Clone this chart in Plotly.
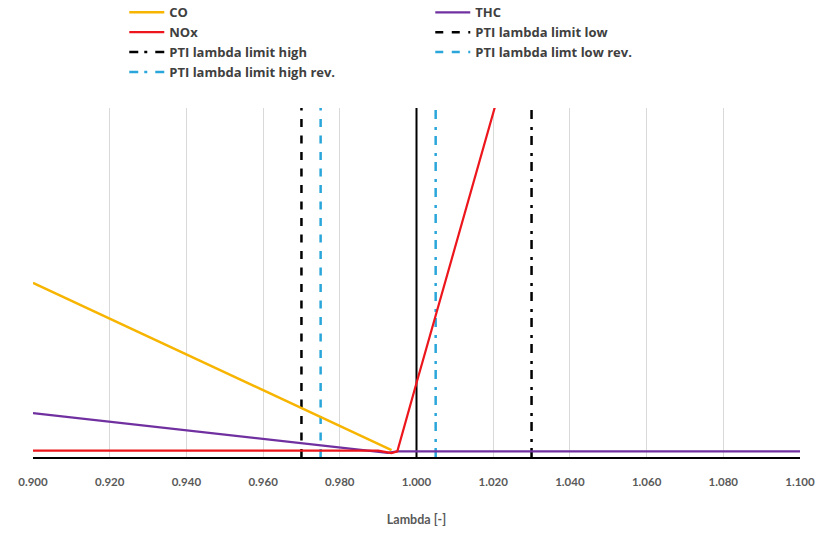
import plotly.graph_objects as go

# ---- data ----
lambda_co = [0.900, 0.9935]
co = [49.9, 2.0]

lambda_thc = [0.900, 0.9925, 0.995, 1.100]
thc = [12.6, 1.2, 1.6, 1.6]

lambda_nox = [0.900, 0.990, 0.9935, 0.995, 1.000, 1.0205]
nox = [1.8, 1.8, 1.1, 1.6, 21.2, 100.5]

pti_low = 0.970
pti_low_rev = 0.975
stoich = 1.000
pti_high_rev = 1.005
pti_high = 1.030

x_ticks = [0.90, 0.92, 0.94, 0.96, 0.98, 1.00, 1.02, 1.04, 1.06, 1.08, 1.10]
x_ticklabels = ["0.900", "0.920", "0.940", "0.960", "0.980", "1.000",
                "1.020", "1.040", "1.060", "1.080", "1.100"]

Y_MIN, Y_MAX = 0, 100

BLACK = "#000000"
CYAN = "#2aa6da"
DASH = "8px,8.5px"
DASHDOT = "9px,6px,3px,8px"

fig = go.Figure()

def vline(x, color, dash, name, rank, show=True, width=2.5):
    fig.add_trace(go.Scatter(
        x=[x, x], y=[Y_MIN, Y_MAX], mode="lines", name=name,
        line=dict(color=color, width=width, dash=dash),
        showlegend=show, legendrank=rank, hoverinfo="skip"))

vline(pti_low, BLACK, DASH, "PTI lambda limit low", 4)
vline(pti_low_rev, CYAN, DASH, "PTI lambda limt low rev.", 6)
vline(stoich, BLACK, "solid", "lambda 1", 99, show=False, width=2)
vline(pti_high_rev, CYAN, DASHDOT, "PTI lambda limit high rev.", 7)
vline(pti_high, BLACK, DASHDOT, "PTI lambda limit high", 5)

fig.add_trace(go.Scatter(x=lambda_co, y=co, mode="lines", name="CO",
                         line=dict(color="#f7b500", width=2.5), legendrank=1))
fig.add_trace(go.Scatter(x=lambda_thc, y=thc, mode="lines", name="THC",
                         line=dict(color="#7030a0", width=2.2), legendrank=2))
fig.add_trace(go.Scatter(x=lambda_nox, y=nox, mode="lines", name="NOx",
                         line=dict(color="#ec161c", width=2.2), legendrank=3))

fig.update_layout(
    width=824, height=534,
    margin=dict(l=33, r=24, t=108, b=77, autoexpand=False),
    paper_bgcolor="white", plot_bgcolor="white",
    font=dict(family="Lato, 'Open Sans', sans-serif", color="#595959"),
    legend=dict(
        orientation="h", x=0.119, xanchor="left", y=1.317, yanchor="top",
        entrywidth=256, entrywidthmode="pixels",
        font=dict(family="'Open Sans', sans-serif", size=13,
                  color="#404040", weight="bold"),
        bgcolor="rgba(0,0,0,0)", tracegroupgap=0, itemwidth=35,
        traceorder="normal",
    ),
    xaxis=dict(
        range=[0.9, 1.1], tickvals=x_ticks, ticktext=x_ticklabels,
        showgrid=True, gridcolor="#d9d9d9", gridwidth=1,
        showline=True, linecolor="#000000", linewidth=2,
        zeroline=False, ticks="outside", ticklen=13, tickcolor="rgba(0,0,0,0)",
        tickfont=dict(size=11.5, color="#595959", weight="bold"),
        title=dict(text="Lambda [-]", standoff=28,
                   font=dict(size=12.5, color="#595959", weight="bold")),
    ),
    yaxis=dict(range=[Y_MIN, Y_MAX], showgrid=False, showticklabels=False,
               zeroline=False, showline=False, ticks=""),
)

fig.write_html("out.html", config={"displayModeBar": False},
               post_script="document.body.style.margin='0px';")
